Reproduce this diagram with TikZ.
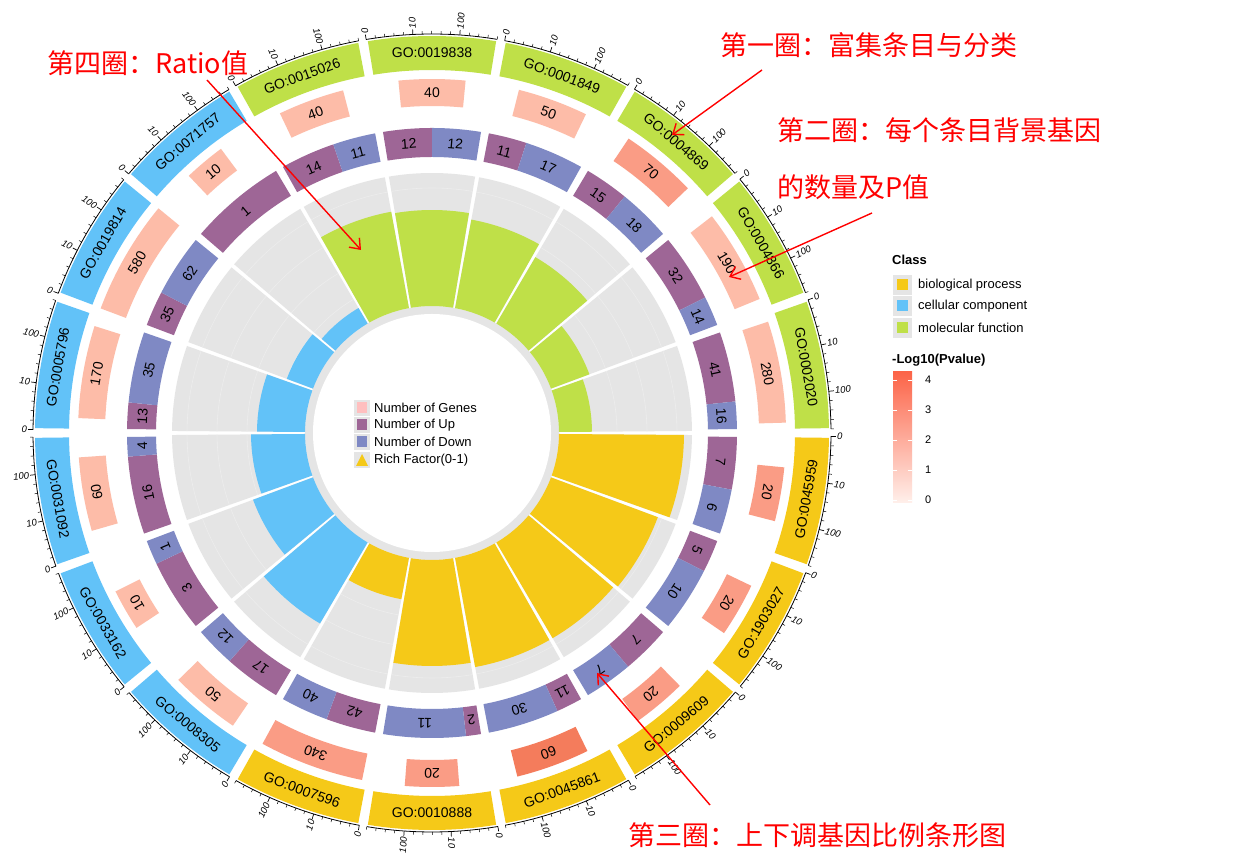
\documentclass[tikz,border=0pt]{standalone}
\usepackage{fontspec}
\setmainfont{Liberation Sans}
\newfontfamily\cjk{Noto Sans CJK SC}
\usetikzlibrary{arrows.meta}
\definecolor{clsG}{HTML}{BFE048}
\definecolor{clsY}{HTML}{F5C918}
\definecolor{clsB}{HTML}{62C2F8}
\definecolor{gL}{HTML}{FDBCA8}
\definecolor{gM}{HTML}{FA9C85}
\definecolor{gD}{HTML}{F47C5C}
\definecolor{upC}{HTML}{9E6696}
\definecolor{dnC}{HTML}{7F89C4}
\definecolor{bgG}{HTML}{E5E5E5}
\definecolor{grid}{HTML}{EDEDED}
\definecolor{annot}{HTML}{FF0000}
\newcommand{\annsec}[5]{\fill[#5] (#1:#3pt) arc[start angle=#1,end angle=#2,radius=#3pt] -- (#2:#4pt) arc[start angle=#2,end angle=#1,radius=#4pt] -- cycle;}
\tikzset{
  numlab/.style={font=\fontsize{14}{14}\selectfont, inner sep=0pt},
  golab/.style={font=\fontsize{14}{14}\selectfont, inner sep=0pt},
  ticklab/.style={font=\fontsize{9.5}{10}\selectfont\itshape, inner sep=1pt},
  cjklab/.style={font=\cjk\fontsize{27}{27}\selectfont, text=annot, anchor=west, inner sep=0pt},
  redarrow/.style={draw=annot, line width=1.4pt, -{Straight Barb[length=9pt,width=14pt]}},
  legtext/.style={font=\fontsize{13}{13}\selectfont, anchor=west, inner sep=0pt},
  legtitle/.style={font=\bfseries\fontsize{13}{13}\selectfont, anchor=west, inner sep=0pt}
}
\begin{document}
\begin{tikzpicture}[x=1pt,y=1pt]
\useasboundingbox (0,0) rectangle (1244,867);
\fill[white] (0,0) rectangle (1244,867);
\begin{scope}[shift={(432,434)}]
\fill[bgG] (0,0) circle (127pt);
\fill[white] (0,0) circle (119pt);
\foreach \k/\go/\cl/\n/\gc/\up/\dn/\rf in {
 0/0019838/clsG/40/gL/12/12/223,
 1/0001849/clsG/50/gL/11/17/217,
 2/0004869/clsG/70/gM/15/18/204,
 3/0004866/clsG/190/gL/32/14/168,
 4/0002020/clsG/280/gL/41/16/160,
 5/0045959/clsY/20/gM/7/6/252,
 6/1903027/clsY/20/gM/5/10/241,
 7/0009609/clsY/20/gM/7/7/238,
 8/0045861/clsY/60/gD/11/30/238,
 9/0010888/clsY/20/gM/2/11/233,
 10/0007596/clsY/340/gM/42/40/169,
 11/0008305/clsB/50/gL/17/12/221,
 12/0033162/clsB/10/gL/3/1/191,
 13/0031092/clsB/60/gL/16/4/181,
 14/0005796/clsB/170/gL/13/35/175,
 15/0019814/clsB/580/gL/35/62/155,
 16/0071757/clsB/10/gL/1/0/145,
 17/0015026/clsG/40/gL/14/11/225}{
  \pgfmathsetmacro\s{100-20*\k}
  \pgfmathsetmacro\c{90-20*\k}
  \pgfmathsetmacro\e{80-20*\k}
  \pgfmathsetmacro\aa{\s-0.45}\pgfmathsetmacro\ab{\e+0.45}
  \annsec{\aa}{\ab}{127}{260}{bgG}
  \foreach \gr in {155,185,215,245}{\draw[grid,line width=0.6pt] (\aa:\gr pt) arc[start angle=\aa,end angle=\ab,radius=\gr pt];}
  \annsec{\aa}{\ab}{127}{\rf}{\cl}
  \pgfmathsetmacro\ua{\s-0.75}\pgfmathsetmacro\ue{\e+0.75}
  \pgfmathsetmacro\um{\ua-18.5*\up/(\up+\dn)}
  \annsec{\ua}{\um}{276}{305}{upC}
  \pgfmathsetmacro\umid{(\ua+\um)/2}\pgfmathsetmacro\ur{\umid-90}
  \node[numlab,rotate=\ur] (up\k) at (\umid:290pt) {\up};
  \ifnum\dn>0
    \annsec{\um}{\ue}{276}{305}{dnC}
    \pgfmathsetmacro\dmid{(\um+\ue)/2}\pgfmathsetmacro\dr{\dmid-90}
    \node[numlab,rotate=\dr] (dn\k) at (\dmid:290pt) {\dn};
  \fi
  \pgfmathsetmacro\w{3.4*log10(\n)}
  \pgfmathsetmacro\ga{\c+\w}\pgfmathsetmacro\gb{\c-\w}
  \annsec{\ga}{\gb}{327}{354}{\gc}
  \pgfmathsetmacro\cr{\c-90}
  \node[numlab,rotate=\cr] (gn\k) at (\c:340.5pt) {\n};
  \pgfmathsetmacro\ba{\s-0.7}\pgfmathsetmacro\bb{\e+0.7}
  \annsec{\ba}{\bb}{363}{397}{\cl}
  \pgfmathsetmacro\gr{sin(\c)>0 ? \c-90 : \c+90}
  \node[golab,rotate=\gr] (go\k) at (\c:380pt) {GO:\go};
  \pgfmathsetmacro\ta{\s-0.5}\pgfmathsetmacro\tb{\s-19.4}
  \draw[line width=0.8pt] (\ta:399pt) arc[start angle=\ta,end angle=\tb,radius=399pt];
  \foreach \j in {0,...,14}{
    \pgfmathsetmacro\t{\ta-1.35*\j}
    \pgfmathtruncatemacro\mj{mod(\j,5)==0 ? 1 : 0}
    \ifnum\mj=1 \draw[line width=0.7pt] (\t:399pt) -- (\t:404pt);
    \else \draw[line width=0.5pt] (\t:399pt) -- (\t:402pt); \fi
  }
  \foreach \j/\lab in {0/0,5/10,10/100}{
    \pgfmathsetmacro\t{\ta-1.35*\j}
    \pgfmathtruncatemacro\rt{cos(\t)>-0.05 ? 1 : 0}
    \ifnum\rt=1 \node[ticklab,anchor=west,rotate=\t] (tk\k-\j) at (\t:404pt) {\lab};
    \else \pgfmathsetmacro\tr{\t+180}\node[ticklab,anchor=east,rotate=\tr] (tk\k-\j) at (\t:404pt) {\lab}; \fi
  }
}
\end{scope}
\foreach \i/\yy/\txt in {0/408/Number of Genes,1/425/Number of Up,2/442/Number of Down,3/460/Rich Factor(0-1)}{
  \fill[bgG] (354,867-\yy-8) rectangle (370,867-\yy+8);
  \node[legtext] (cl\i) at (374,867-\yy) {\txt};
}
\fill[pink] (357,867-408-5.5) rectangle (367,867-408+5.5);
\fill[upC] (357,867-425-5.5) rectangle (367,867-425+5.5);
\fill[dnC] (357,867-442-5.5) rectangle (367,867-442+5.5);
\fill[clsY] (356,867-466) -- (368,867-466) -- (362,867-454) -- cycle;
\node[legtitle] (classT) at (892,867-260) {Class};
\foreach \i/\yy/\col/\txt in {0/285/clsY/biological process,1/306/clsB/cellular component,2/328/clsG/molecular function}{
  \fill[bgG] (893,867-\yy-10) rectangle (912,867-\yy+10);
  \fill[\col] (897,867-\yy-5.5) rectangle (908,867-\yy+5.5);
  \node[legtext] (rl\i) at (918,867-\yy) {\txt};
}
\node[legtitle] (pT) at (892,867-360) {-Log10(Pvalue)};
\shade[top color={rgb,255:red,252;green,100;blue,72}, bottom color={rgb,255:red,255;green,240;blue,235}] (893,867-503) rectangle (912,867-372);
\foreach \v/\yy in {4/380,3/410,2/440,1/470,0/500}{
  \draw[white,line width=0.6pt] (893,867-\yy) -- (897,867-\yy) (908,867-\yy) -- (912,867-\yy);
  \node[font=\fontsize{11}{11}\selectfont,anchor=west,inner sep=0pt] (pv\v) at (925,867-\yy) {\v};
}
\node[cjklab] (a4) at (47,867-63) {第四圈：Ratio值};
\node[cjklab] (a1) at (720,867-45) {第一圈：富集条目与分类};
\node[cjklab] (a2) at (777,867-130) {第二圈：每个条目背景基因};
\node[cjklab] (a2b) at (777,867-187) {的数量及P值};
\node[cjklab] (a3) at (628,867-835) {第三圈：上下调基因比例条形图};
\coordinate (s4) at (207,867-80); \coordinate (e4) at (361,867-250);
\coordinate (s1) at (762,867-70); \coordinate (e1) at (672,867-135);
\coordinate (s2) at (872,867-213); \coordinate (e2) at (729,867-277);
\coordinate (s3) at (710,867-805); \coordinate (e3) at (597,867-673);
\draw[redarrow] (s4) -- (e4);
\draw[redarrow] (s1) -- (e1);
\draw[redarrow] (s2) -- (e2);
\draw[redarrow] (s3) -- (e3);
\end{tikzpicture}
\end{document}
